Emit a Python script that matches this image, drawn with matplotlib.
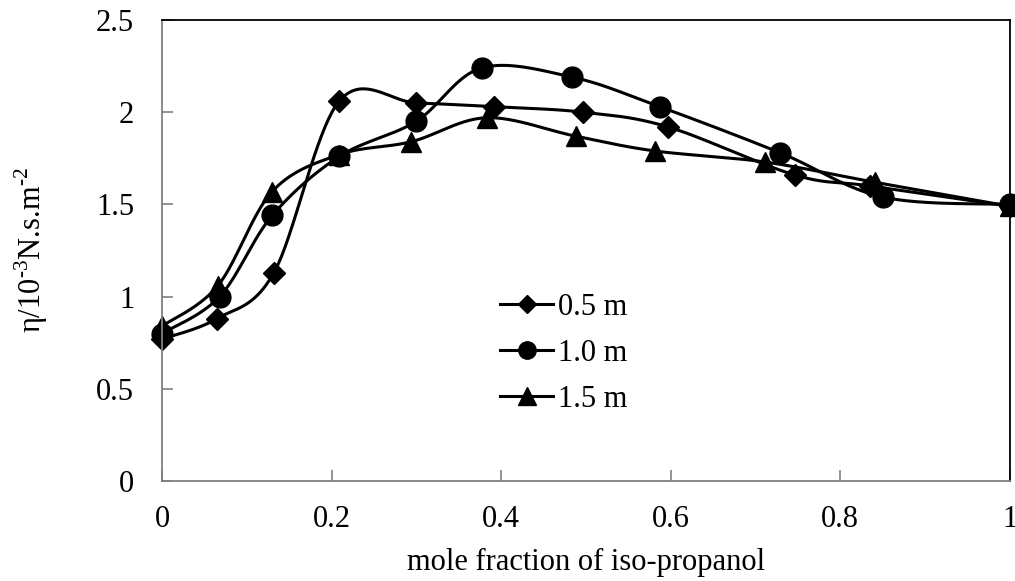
import numpy as np
import matplotlib.pyplot as plt

plt.rcParams['font.family'] = ['Liberation Serif', 'DejaVu Serif']
plt.rcParams['mathtext.fontset'] = 'custom'
plt.rcParams['mathtext.rm'] = 'Liberation Serif'

# viscosity vs mole fraction of iso-propanol, three salt molalities
x_05 = [0, 0.0645, 0.132, 0.209, 0.300, 0.391, 0.497, 0.597, 0.746, 0.835, 1.0]
y_05 = [0.77, 0.88, 1.13, 2.06, 2.05, 2.03, 2.00, 1.92, 1.66, 1.60, 1.49]

x_10 = [0, 0.068, 0.130, 0.209, 0.2995, 0.377, 0.484, 0.587, 0.729, 0.850, 1.0]
y_10 = [0.80, 1.00, 1.44, 1.76, 1.95, 2.24, 2.19, 2.03, 1.78, 1.54, 1.50]

x_15 = [0, 0.066, 0.130, 0.209, 0.294, 0.383, 0.488, 0.581, 0.711, 0.841, 1.0]
y_15 = [0.84, 1.06, 1.57, 1.77, 1.84, 1.97, 1.87, 1.79, 1.73, 1.62, 1.49]

labels = ['0.5 m', '1.0 m', '1.5 m']


def smooth(xs, ys, n=40):
    # spreadsheet-style smoothed line: cubic bezier with 1/6 tangents
    p = np.column_stack([xs, ys]).astype(float)
    pad = np.vstack([p[0], p, p[-1]])
    t = np.linspace(0, 1, n)[:, None]
    out = []
    for i in range(len(p) - 1):
        p0, p1 = pad[i + 1], pad[i + 2]
        c1 = p0 + (pad[i + 2] - pad[i]) / 6
        c2 = p1 - (pad[i + 3] - pad[i + 1]) / 6
        seg = ((1 - t) ** 3 * p0 + 3 * (1 - t) ** 2 * t * c1
               + 3 * (1 - t) * t ** 2 * c2 + t ** 3 * p1)
        out.append(seg)
    out = np.vstack(out)
    return out[:, 0], out[:, 1]


fig = plt.figure(figsize=(10.15, 5.81), dpi=100)
ax = fig.add_axes([0.1596, 0.172, 0.8354, 0.7936])

# marker, size on the curve, size in the legend
series = [(x_05, y_05, 'D', 11, 9), (x_10, y_10, 'o', 15, 12.5), (x_15, y_15, '^', 15, 12.5)]
for (xs, ys, m, ms, lms), lab in zip(series, labels):
    sx, sy = smooth(xs, ys)
    ax.plot(sx, sy, color='black', lw=2.2, clip_on=False)
    ax.plot(xs, ys, linestyle='none', marker=m, ms=ms, color='black', clip_on=False)
    ax.plot([], [], color='black', lw=2.2, marker=m, ms=lms, label=lab)

ax.set_xlim(0, 1)
ax.set_ylim(0, 2.5)
ax.set_xticks([0, 0.2, 0.4, 0.6, 0.8, 1])
ax.set_xticklabels(['0', '0.2', '0.4', '0.6', '0.8', '1'])
ax.set_yticks([0, 0.5, 1, 1.5, 2, 2.5])
ax.set_yticklabels(['0', '0.5', '1', '1.5', '2', '2.5'])
ax.tick_params(direction='in', length=8, width=1.2, color='#808080',
               labelsize=22)
ax.tick_params(axis='y', pad=20)
ax.tick_params(axis='x', pad=17)
for s in ['left', 'bottom']:
    ax.spines[s].set_color('#808080')
for s in ['top', 'right']:
    ax.spines[s].set_color('black')
for s in ax.spines.values():
    s.set_linewidth(1.3)

ax.set_xlabel('mole fraction of iso-propanol', fontsize=22, labelpad=10)
ax.set_ylabel(r'η/10$^{\text{-3}}$N.s.m$^{\text{-2}}$', fontsize=22,
              va='center', ha='center')
ax.yaxis.set_label_coords(-0.1545, 0.5)

ax.legend(loc='upper left', bbox_to_anchor=(0.3986, 0.408), frameon=False,
          fontsize=22, handlelength=1.74, handletextpad=0.16, labelspacing=0.56,
          borderpad=0, borderaxespad=0)

fig.savefig('out.png', dpi=100)
